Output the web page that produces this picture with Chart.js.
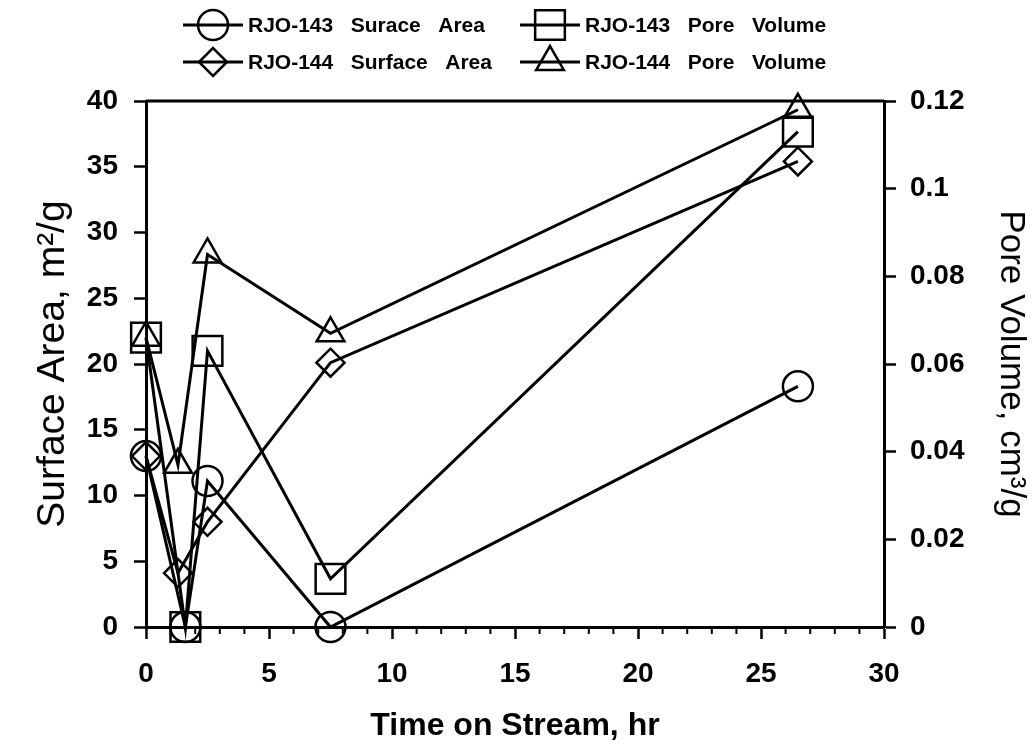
<!DOCTYPE html>
<html lang="en">
<head>
<meta charset="UTF-8">
<title>Surface Area and Pore Volume vs Time on Stream</title>
<script src="https://cdn.jsdelivr.net/npm/chart.js"></script>
<style>
    body { margin: 0; padding: 0; background: #fff; }
    #wrap { width: 1035px; height: 745px; }
</style>
</head>
<body>
<div id="wrap"><canvas id="chart"></canvas></div>
<script>
    // time on stream, hr
    var time143 = [0, 1.6, 2.5, 7.5, 26.5];
    var time144 = [0, 1.3, 2.5, 7.5, 26.5];
    // surface area, m2/g (left axis)
    var area143 = [13, 0, 11.1, 0, 18.3];
    var area144 = [13, 4.1, 8, 20.1, 35.4];
    // pore volume, cm3/g (right axis)
    var pore143 = [0.066, 0, 0.063, 0.011, 0.113];
    var pore144 = [0.066, 0.037, 0.085, 0.067, 0.118];

    var xTicks = [0, 5, 10, 15, 20, 25, 30];
    var areaTicks = [0, 5, 10, 15, 20, 25, 30, 35, 40];
    var poreTicks = [0, 0.02, 0.04, 0.06, 0.08, 0.1, 0.12];

    var labels = ['RJO-143   Surace   Area', 'RJO-143   Pore   Volume',
                  'RJO-144   Surface   Area', 'RJO-144   Pore   Volume'];

    var FONT = "'Liberation Sans', Arial, Helvetica, sans-serif";

    function pts(xs, ys) {
        return xs.map(function(x, i) { return {x: x, y: ys[i]}; });
    }

    function series(label, data, axis, style, radius) {
        return {
            label: label,
            data: data,
            yAxisID: axis,
            borderColor: '#000',
            borderWidth: 3,
            pointStyle: style,
            pointRadius: radius,
            pointBorderWidth: 2.5,
            pointBorderColor: '#000',
            pointBackgroundColor: 'rgba(0,0,0,0)',
            fill: false,
            tension: 0,
            clip: false
        };
    }

    // legend drawn as two rows of two items, line through the marker
    var legendBox = {
        id: 'legendBox',
        afterDraw: function(chart) {
            var ctx = chart.ctx;
            var cols = [213, 550];
            var rows = [25, 62];
            ctx.save();
            chart.data.datasets.forEach(function(ds, k) {
                var cx = cols[k % 2], cy = rows[Math.floor(k / 2)];
                ctx.strokeStyle = '#000';
                ctx.lineWidth = 3;
                ctx.beginPath();
                ctx.moveTo(cx - 30, cy);
                ctx.lineTo(cx + 30, cy);
                ctx.stroke();
                ctx.fillStyle = 'rgba(0,0,0,0)';
                ctx.lineWidth = ds.pointBorderWidth;
                Chart.helpers.drawPoint(ctx, {
                    pointStyle: ds.pointStyle,
                    radius: ds.pointRadius,
                    borderWidth: ds.pointBorderWidth,
                    rotation: 0
                }, cx, cy);
                ctx.fillStyle = '#000';
                ctx.font = 'bold 21px ' + FONT;
                ctx.textAlign = 'left';
                ctx.textBaseline = 'middle';
                ctx.fillText(ds.label, cx + 35, cy + 1);
            });
            ctx.restore();
        }
    };

    // top frame line and the short minor ticks on the time axis
    var frame = {
        id: 'frame',
        afterDraw: function(chart) {
            var ctx = chart.ctx, a = chart.chartArea, x = chart.scales.x;
            ctx.save();
            ctx.strokeStyle = '#000';
            ctx.lineWidth = 3;
            ctx.beginPath();
            ctx.moveTo(a.left, a.top);
            ctx.lineTo(a.right, a.top);
            ctx.stroke();
            ctx.lineWidth = 2;
            for (var v = 1; v < 30; v++) {
                if (v % 5 === 0) continue;
                var px = x.getPixelForValue(v);
                ctx.beginPath();
                ctx.moveTo(px, a.bottom);
                ctx.lineTo(px, a.bottom + 7);
                ctx.stroke();
            }
            ctx.restore();
        }
    };

    var ctx = document.getElementById('chart').getContext('2d');
    var chart = new Chart(ctx, {
        type: 'line',
        data: {
            datasets: [
                series(labels[0], pts(time143, area143), 'y', 'circle', 15),
                series(labels[1], pts(time143, pore143), 'y2', 'rect', 21),
                series(labels[2], pts(time144, area144), 'y', 'rectRot', 14),
                series(labels[3], pts(time144, pore144), 'y2', 'triangle', 16)
            ]
        },
        options: {
            responsive: true,
            maintainAspectRatio: false,
            animation: false,
            layout: { padding: { top: 101, left: 0, right: 0, bottom: 0 } },
            plugins: {
                legend: { display: false },
                tooltip: { enabled: false }
            },
            scales: {
                x: {
                    type: 'linear',
                    min: 0,
                    max: 30,
                    afterBuildTicks: function(s) { s.ticks = xTicks.map(function(v) { return {value: v}; }); },
                    afterFit: function(s) { s.height = 118; },
                    grid: { drawOnChartArea: false, drawTicks: true, tickLength: 12, tickWidth: 2.5, tickColor: '#000' },
                    border: { display: true, color: '#000', width: 3 },
                    ticks: {
                        color: '#000',
                        autoSkip: false,
                        maxRotation: 0,
                        padding: 18,
                        font: { family: FONT, size: 28, weight: 'bold' },
                        callback: function(v) { return String(v); }
                    },
                    title: {
                        display: true,
                        text: 'Time on Stream, hr',
                        color: '#000',
                        padding: { top: 0, bottom: 0 },
                        font: { family: FONT, size: 32, weight: 'bold', lineHeight: 1.2 }
                    }
                },
                y: {
                    type: 'linear',
                    position: 'left',
                    min: 0,
                    max: 40,
                    afterBuildTicks: function(s) { s.ticks = areaTicks.map(function(v) { return {value: v}; }); },
                    afterFit: function(s) { s.width = 146; },
                    grid: { drawOnChartArea: false, drawTicks: true, tickLength: 12, tickWidth: 2.5, tickColor: '#000' },
                    border: { display: true, color: '#000', width: 3 },
                    ticks: {
                        color: '#000',
                        padding: 16,
                        font: { family: FONT, size: 28, weight: 'bold' },
                        callback: function(v) { return String(v); }
                    },
                    title: {
                        display: true,
                        text: 'Surface Area, m\u00B2/g',
                        color: '#000',
                        padding: { top: 30, bottom: 0 },
                        font: { family: FONT, size: 39, weight: 'normal', lineHeight: 1.2 }
                    }
                },
                y2: {
                    type: 'linear',
                    position: 'right',
                    min: 0,
                    max: 0.12,
                    afterBuildTicks: function(s) { s.ticks = poreTicks.map(function(v) { return {value: v}; }); },
                    afterFit: function(s) { s.width = 151; },
                    grid: { drawOnChartArea: false, drawTicks: true, tickLength: 12, tickWidth: 2.5, tickColor: '#000' },
                    border: { display: true, color: '#000', width: 3 },
                    ticks: {
                        color: '#000',
                        padding: 14,
                        font: { family: FONT, size: 28, weight: 'bold' },
                        callback: function(v) { return String(v); }
                    },
                    title: {
                        display: true,
                        text: 'Pore Volume, cm\u00B3/g',
                        color: '#000',
                        padding: { top: 3, bottom: 0 },
                        font: { family: FONT, size: 35, weight: 'normal', lineHeight: 1.2 }
                    }
                }
            }
        },
        plugins: [legendBox, frame]
    });
</script>
</body>
</html>
